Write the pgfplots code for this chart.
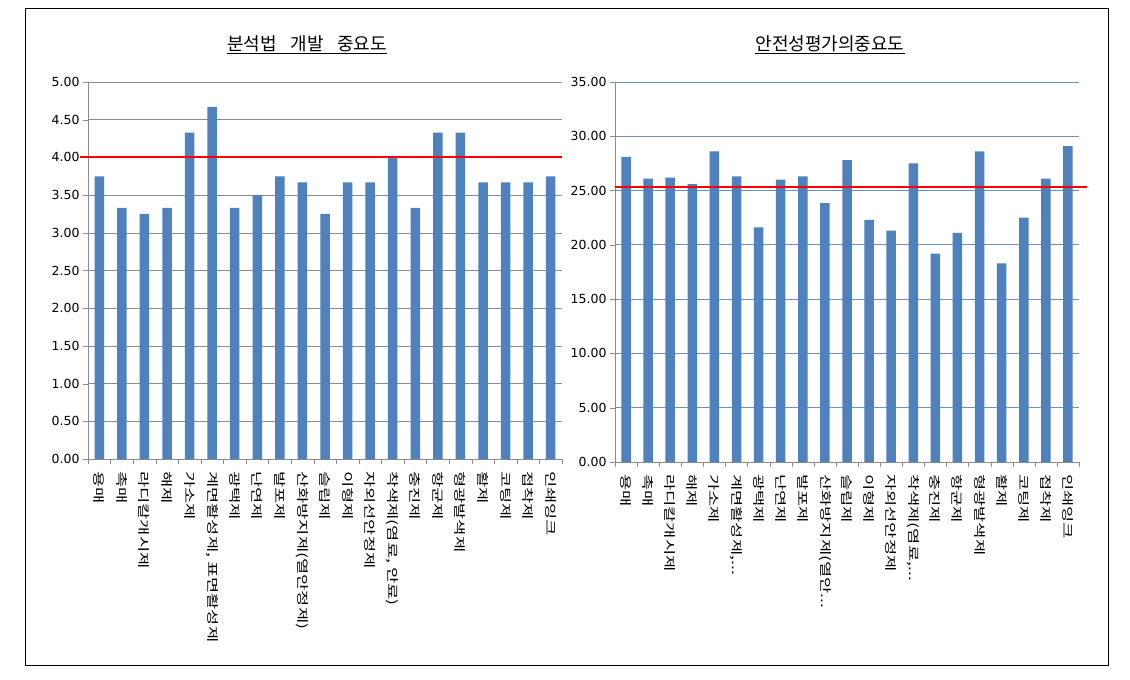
\documentclass[border=0pt]{standalone}
\usepackage{fontspec}
\setmainfont{Noto Sans CJK KR}
\newfontfamily\krlab[FakeStretch=1.47]{Noto Sans CJK KR}
\newfontfamily\numfont{DejaVu Sans}
\usepackage{pgfplots}
\pgfplotsset{compat=1.18}
\definecolor{barblue}{HTML}{4F81BD}
\definecolor{gridgray}{HTML}{8C8C8C}
\definecolor{gridblue}{HTML}{6F91BE}
\definecolor{refred}{HTML}{FF0000}
\newcommand{\tdots}{.\kern0pt.\kern0pt.}
\pgfplotsset{mystyle/.style={
  scale only axis, ybar, bar width=9.5pt,
  xmin=-0.5, xmax=20.5, xtick={0,...,20},
  axis lines*=left,
  axis line style={gridgray},
  ymajorgrids,
  major x tick style={draw=none},
  minor xtick={-0.5,0.5,1.5,2.5,3.5,4.5,5.5,6.5,7.5,8.5,9.5,10.5,11.5,12.5,13.5,14.5,15.5,16.5,17.5,18.5,19.5,20.5},
  minor x tick style={draw=gridgray},
  y tick style={draw=gridgray},
  tick align=outside,
  minor tick length=5pt, major tick length=5pt,
  xticklabel shift=6pt,
  xticklabel style={rotate=-90, anchor=west, font=\krlab\fontsize{12}{13}\selectfont, inner sep=1pt},
  yticklabel style={font=\numfont\fontsize{12.5}{14}\selectfont, /pgf/number format/fixed, /pgf/number format/fixed zerofill, /pgf/number format/precision=2},
  /pgf/number format/assume math mode=true,
  clip=false,
}}
\begin{document}
\begin{tikzpicture}[x=1pt,y=1pt]
\path[use as bounding box, fill=white] (0,0) rectangle (1130,-680);
\draw[black, line width=0.8pt] (25,-8) rectangle (1108,-665);
\node[font=\fontsize{18}{20}\selectfont] at (307,-45) {\underline{분석법\hspace{0.75em}개발\hspace{0.75em}중요도}};
\node[font=\fontsize{18}{20}\selectfont] at (830,-45) {\underline{안전성평가의중요도}};
\begin{axis}[mystyle,
  at={(88pt,-459pt)}, anchor=south west, width=474pt, height=377pt,
  ymin=0, ymax=5, ytick={0,0.5,1,1.5,2,2.5,3,3.5,4,4.5,5},
  major grid style={draw=gridgray, line width=0.6pt},
  xticklabels={용매,촉매,라디칼개시제,해제,가소제,{계면활성제, 표면활성제},광택제,난연제,발포제,산화방지제(열안정제),슬립제,이형제,자외선안정제,{착색제(염료, 안료)},충진제,항균제,형광발색제,활제,코팅제,접착제,인쇄잉크},
]
\addplot[fill=barblue, draw=none] coordinates {
(0,3.75) (1,3.33) (2,3.25) (3,3.33) (4,4.33) (5,4.67) (6,3.33) (7,3.5) (8,3.75) (9,3.67)
(10,3.25) (11,3.67) (12,3.67) (13,4.0) (14,3.33) (15,4.33) (16,4.33) (17,3.67) (18,3.67) (19,3.67) (20,3.75)};
\addplot[draw=refred, line width=1.9pt, sharp plot, forget plot, mark=none] coordinates {(-0.85,4) (20.5,4)};
\end{axis}
\begin{axis}[mystyle,
  at={(615pt,-462pt)}, anchor=south west, width=464pt, height=380pt,
  ymin=0, ymax=35, ytick={0,5,10,15,20,25,30,35},
  major grid style={draw=gridblue, line width=0.8pt},
  xticklabels={용매,촉매,라디칼개시제,해제,가소제,{계면활성제,\tdots},광택제,난연제,발포제,{산화방지제(열안\tdots},슬립제,이형제,자외선안정제,{착색제(염료,\tdots},충진제,항균제,형광발색제,활제,코팅제,접착제,인쇄잉크},
]
\addplot[fill=barblue, draw=none] coordinates {
(0,28.1) (1,26.1) (2,26.2) (3,25.6) (4,28.6) (5,26.3) (6,21.6) (7,26.0) (8,26.3) (9,23.85)
(10,27.8) (11,22.3) (12,21.3) (13,27.5) (14,19.2) (15,21.1) (16,28.6) (17,18.3) (18,22.5) (19,26.1) (20,29.1)};
\addplot[draw=refred, line width=1.9pt, sharp plot, forget plot, mark=none] coordinates {(-0.5,25.3) (20.85,25.3)};
\end{axis}
\end{tikzpicture}
\end{document}
